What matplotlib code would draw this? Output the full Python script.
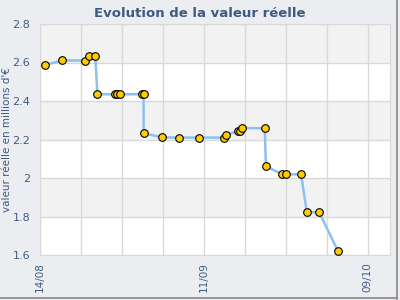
import matplotlib
matplotlib.use('Agg')
import matplotlib.pyplot as plt

# ── DATA ─────────────────────────────────────────────────────────────────────
# days since 14/08
days = [0.9, 3.8, 7.75, 8.4, 9.45, 9.8, 12.8, 13.1, 13.7, 17.4, 17.7, 17.7,
        20.9, 23.8, 27.2, 31.4, 31.7, 33.8, 34.2, 34.5, 38.4, 38.6,
        41.4, 42.0, 44.6, 45.6, 47.7, 50.9]
valeur = [2.587, 2.611, 2.61, 2.634, 2.634, 2.435, 2.435, 2.435, 2.435, 2.435,
          2.435, 2.232, 2.211, 2.21, 2.21, 2.21, 2.222, 2.244, 2.245, 2.26,
          2.258, 2.061, 2.019, 2.019, 2.019, 1.822, 1.822, 1.621]
xtick_pos = [0, 28, 56]
xtick_labels = ['14/08', '11/09', '09/10']
yticks = [1.6, 1.8, 2.0, 2.2, 2.4, 2.6, 2.8]

# ── STYLE ────────────────────────────────────────────────────────────────────
BG = '#ebedf0'
TXT = '#3d5a85'
GRID = '#d9d9d9'
BAND = '#f2f2f2'

fig = plt.figure(figsize=(4, 3), dpi=100)
fig.patch.set_facecolor(BG)
ax = fig.add_axes([0.1, 0.15, 0.875, 0.77])
ax.set_facecolor('white')

# alternating bands
for i in range(len(yticks) - 1):
    if i % 2 == 1:
        ax.axhspan(yticks[i], yticks[i + 1], color=BAND, zorder=0, lw=0)

# weekly grid
for d in range(0, 60, 7):
    ax.axvline(d, color=GRID, lw=1, zorder=1)
for v in yticks:
    ax.axhline(v, color=GRID, lw=1, zorder=1)

ax.plot(days, valeur, color='#8cc0f2', lw=1.8, zorder=3,
        marker='o', markersize=5.5, markerfacecolor='#ffcc00',
        markeredgecolor='black', markeredgewidth=0.8)

ax.set_xlim(0, 59.8)
ax.set_ylim(1.6, 2.8)
ax.set_xticks(xtick_pos)
ax.set_xticklabels(xtick_labels, rotation=90, fontsize=7.5, color=TXT)
ax.set_yticks(yticks)
ax.set_yticklabels([f'{v:g}' for v in yticks], fontsize=8, color=TXT)
ax.tick_params(axis='y', length=0, pad=7)
ax.tick_params(axis='x', length=0, pad=5)
for s in ax.spines.values():
    s.set_color(GRID)

fig.text(0.017, 0.535, "valeur réelle en millions d'€", rotation=90,
         ha='center', va='center', fontsize=7.5, color=TXT)
fig.text(0.5, 0.955, 'Evolution de la valeur réelle', ha='center', va='center',
         fontsize=9.5, fontweight='bold', color=TXT)

# shadow border right/bottom
fig.add_artist(plt.Line2D([0.993, 0.993], [0.005, 1], transform=fig.transFigure,
                          color='#888888', lw=1.2))
fig.add_artist(plt.Line2D([0.0, 0.993], [0.007, 0.007], transform=fig.transFigure,
                          color='#888888', lw=1.2))

plt.savefig('out.png', dpi=100, facecolor=BG)
plt.close()
